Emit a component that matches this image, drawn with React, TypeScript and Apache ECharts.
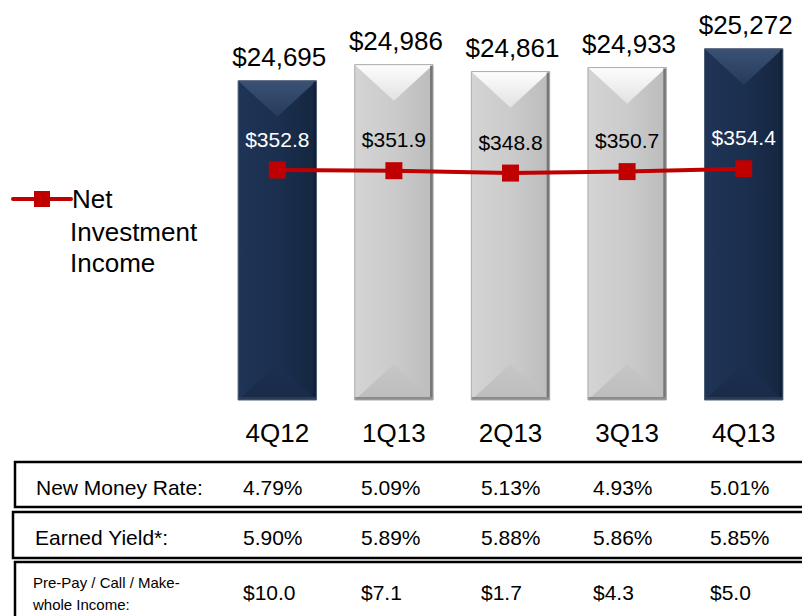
import React, { useEffect, useRef } from "react";
import * as echarts from "echarts";

const categories = ["4Q12", "1Q13", "2Q13", "3Q13", "4Q13"];
const portfolioValues = [24695, 24986, 24861, 24933, 25272];
const netInvestmentIncome = [352.8, 351.9, 348.8, 350.7, 354.4];
const newMoneyRate = ["4.79%", "5.09%", "5.13%", "4.93%", "5.01%"];
const earnedYield = ["5.90%", "5.89%", "5.88%", "5.86%", "5.85%"];
const prePayIncome = ["$10.0", "$7.1", "$1.7", "$4.3", "$5.0"];
const rowLabels = ["New Money Rate:", "Earned Yield*:", "Pre-Pay / Call / Make-\nwhole Income:"];

const FONT = "'Liberation Sans', Arial, Helvetica, sans-serif";
const Y_MIN = 18940;
const Y_MAX = 25800;
const Y2_MIN = 53.8;
const Y2_MAX = 548.45;
const TABLE_COL_X = [243, 361, 481, 593, 710];

const isDark = (cat: string) => cat.startsWith("4Q");

function renderBar(params: any, api: any) {
  const idx = api.value(0);
  const val = api.value(1);
  const top = api.coord([idx, val]);
  const bottom = api.coord([idx, Y_MIN]);
  const band = api.size([1, 0])[0];
  const w = band * 0.672;
  const xc = top[0];
  const x0 = xc - w / 2;
  const x1 = xc + w / 2;
  const y0 = top[1];
  const y1 = bottom[1];
  const h = w * 0.46;
  const dark = isDark(categories[idx]);
  const lin = (a: number, b: number, c: number, d: number, stops: [number, string][]) =>
    new echarts.graphic.LinearGradient(a, b, c, d, stops.map(([offset, color]) => ({ offset, color })));
  const col = dark
    ? {
        body: lin(0, 0, 1, 0, [[0, "#1f3456"], [0.5, "#1b2f4f"], [1, "#14263f"]]),
        top: lin(0, 0, 0, 1, [[0, "#3a5174"], [1, "#263c5d"]]),
        bottom: lin(0, 0, 0, 1, [[0, "#1b2f4f"], [1, "#182b49"]]),
        edgeR: "#112039",
        edgeB: "#2b3b53",
        border: "#4d5d74",
      }
    : {
        body: lin(0, 0, 1, 0, [[0, "#d4d4d4"], [0.5, "#cbcbcb"], [1, "#bcbcbc"]]),
        top: lin(0, 0, 0, 1, [[0, "#fdfdfd"], [1, "#e2e2e2"]]),
        bottom: lin(0, 0, 0, 1, [[0, "#c6c6c6"], [1, "#bdbdbd"]]),
        edgeR: "#767676",
        edgeB: "#8c8c8c",
        border: "#ababab",
      };
  return {
    type: "group",
    children: [
      { type: "rect", shape: { x: x0, y: y0, width: w, height: y1 - y0 }, style: { fill: col.body } },
      { type: "polygon", shape: { points: [[x0, y0], [x1, y0], [xc, y0 + h]] }, style: { fill: col.top } },
      { type: "polygon", shape: { points: [[x0, y1], [x1, y1], [xc, y1 - h]] }, style: { fill: col.bottom } },
      { type: "rect", shape: { x: x1 - 3, y: y0 + 1, width: 3, height: y1 - y0 - 1 }, style: { fill: col.edgeR } },
      { type: "rect", shape: { x: x0, y: y1 - 3, width: w, height: 3 }, style: { fill: col.edgeB } },
      { type: "rect", shape: { x: x0, y: y0, width: w, height: y1 - y0 }, style: { fill: "none", stroke: col.border, lineWidth: 1 } },
      {
        type: "text",
        style: {
          text: "$" + Number(val).toLocaleString("en-US"),
          x: xc + 2,
          y: y0 - 11,
          align: "center",
          verticalAlign: "bottom",
          fontSize: 26,
          fontFamily: FONT,
          fill: "#000",
        },
      },
    ],
  };
}

export default function App() {
  const ref = useRef<HTMLDivElement>(null);
  useEffect(() => {
    document.body.style.margin = "0";
    const chart = echarts.init(ref.current!, null, { renderer: "svg" });
    const rowTops = [462, 512, 562];
    const rowH = [45, 46, 60];
    const rowLeft = [15, 13, 15];
    const rowMid = [487, 537, 592];
    const graphic: any[] = [];
    rowTops.forEach((t, i) => {
      graphic.push({
        type: "rect",
        shape: { x: rowLeft[i], y: t, width: 820, height: rowH[i] },
        style: { fill: "none", stroke: "#000", lineWidth: 2.5 },
      });
    });
    graphic.push({
      type: "text",
      style: { text: rowLabels[0], x: 36, y: rowMid[0], verticalAlign: "middle", fontSize: 21, fontFamily: FONT, fill: "#000" },
    });
    graphic.push({
      type: "text",
      style: { text: rowLabels[1], x: 35, y: rowMid[1], verticalAlign: "middle", fontSize: 21, fontFamily: FONT, fill: "#000" },
    });
    graphic.push({
      type: "text",
      style: { text: rowLabels[2], x: 33, y: 593, verticalAlign: "middle", fontSize: 15, lineHeight: 22, fontFamily: FONT, fill: "#000" },
    });
    [newMoneyRate, earnedYield, prePayIncome].forEach((row, r) => {
      row.forEach((v, c) => {
        graphic.push({
          type: "text",
          style: { text: v, x: TABLE_COL_X[c], y: rowMid[r], verticalAlign: "middle", fontSize: 21, fontFamily: FONT, fill: "#000" },
        });
      });
    });
    graphic.push({
      type: "text",
      style: { text: "Investment\nIncome", x: 70, y: 216, verticalAlign: "top", fontSize: 26, lineHeight: 31, fontFamily: FONT, fill: "#000" },
    });

    chart.setOption({
      animation: false,
      textStyle: { fontFamily: FONT },
      grid: { left: 219, width: 587.5, top: 19.5, height: 380.5 },
      legend: {
        data: ["Net Investment Income"],
        formatter: () => "Net",
        left: 6,
        top: 181,
        itemWidth: 58,
        itemHeight: 20,
        itemGap: 0,
        lineStyle: { width: 4, cap: "round" },
        textStyle: { fontSize: 26, fontFamily: FONT, color: "#000", padding: [0, 0, 0, -4] },
      },
      xAxis: {
        type: "category",
        data: categories,
        axisLine: { show: false },
        axisTick: { show: false },
        axisLabel: { fontSize: 26, color: "#000", margin: 20, fontFamily: FONT },
      },
      yAxis: [
        { type: "value", min: Y_MIN, max: Y_MAX, show: false, splitLine: { show: false } },
        { type: "value", min: Y2_MIN, max: Y2_MAX, show: false, splitLine: { show: false } },
      ],
      series: [
        {
          type: "custom",
          name: "Portfolio",
          renderItem: renderBar,
          data: portfolioValues.map((v, i) => [i, v]),
          encode: { x: 0, y: 1 },
          z: 1,
        },
        {
          type: "line",
          name: "Net Investment Income",
          yAxisIndex: 1,
          data: netInvestmentIncome.map((v, i) => ({
            value: v,
            label: { color: isDark(categories[i]) ? "#fff" : "#000" },
          })),
          symbol: "rect",
          symbolSize: 17,
          itemStyle: { color: "#c00000" },
          lineStyle: { color: "#c00000", width: 4 },
          z: 5,
          label: {
            show: true,
            position: "top",
            distance: 12,
            fontSize: 21,
            fontFamily: FONT,
            formatter: (p: any) => "$" + Number(p.value).toFixed(1),
          },
        },
      ],
      graphic,
    });
    return () => chart.dispose();
  }, []);
  return <div ref={ref} style={{ width: 802, height: 616 }} />;
}
